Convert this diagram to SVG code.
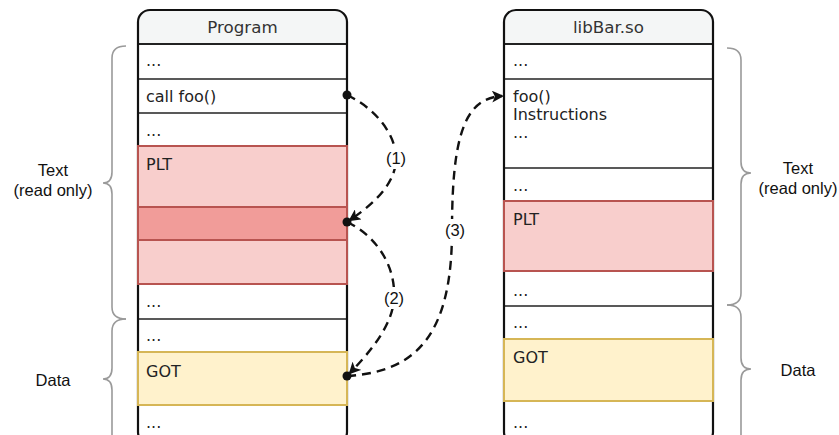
<svg xmlns="http://www.w3.org/2000/svg" width="839" height="435" viewBox="0 0 839 435">
<style>
.box{fill:none;stroke:#111;stroke-width:2.2}
.hdr{fill:#f4f6f6}
.sep{stroke:#222;stroke-width:1.4}
.plt{fill:#f8cecc;stroke:#b85450;stroke-width:2}
.pltd{fill:#f19c99;stroke:#b85450;stroke-width:2}
.got{fill:#fff2cc;stroke:#d6b656;stroke-width:2}
.t{font-family:"DejaVu Sans",sans-serif;font-size:16px;fill:#222}
.h{font-family:"DejaVu Sans",sans-serif;font-size:16.7px;fill:#333;text-anchor:middle}
.lbl{font-family:"Liberation Sans",Arial,sans-serif;font-size:16.5px;fill:#111;text-anchor:middle}
.brace{fill:none;stroke:#9a9a9a;stroke-width:1.6}
.conn{fill:none;stroke:#111;stroke-width:2.4;stroke-dasharray:9 6}
</style>
<defs>
<marker id="arr" viewBox="0 0 12 12" refX="10" refY="6" markerWidth="12" markerHeight="12" markerUnits="userSpaceOnUse" orient="auto">
<path d="M0,0 L12,6 L0,12 L3,6 Z" fill="#111"/>
</marker>
</defs>
<rect width="839" height="435" fill="#fff"/>

<g id="braces">
<path class="brace" d="M126,46 Q112,46 112,58 L112,172 Q112,183 103,183 Q112,183 112,194 L112,307 Q112,319 126,319"/>
<path class="brace" d="M126,319 Q112,319 112,331 L112,368 Q112,379 103,379 Q112,379 112,390 L112,440"/>
<path class="brace" d="M727,48 Q741,48 741,60 L741,162 Q741,173 751,173 Q741,173 741,184 L741,293 Q741,305 727,305"/>
<path class="brace" d="M727,305 Q741,305 741,317 L741,358 Q741,369 751,369 Q741,369 741,380 L741,440"/>
</g>

<g id="program">
<path class="hdr" d="M139.1,43.5 L139.1,22 Q139.1,11.1 150,11.1 L335,11.1 Q345.9,11.1 345.9,22 L345.9,43.5 Z"/>
<text class="h" x="242.5" y="33">Program</text>
<line class="sep" x1="138" y1="44" x2="347" y2="44" style="stroke-width:2"/>
<line class="sep" x1="138" y1="79" x2="347" y2="79"/>
<line class="sep" x1="138" y1="113" x2="347" y2="113"/>
<line class="sep" x1="138" y1="319" x2="347" y2="319"/>
<rect class="box" x="138" y="10" width="209" height="434" rx="12" ry="12"/>
<text class="t" x="146" y="66">...</text>
<text class="t" x="146" y="102">call foo()</text>
<text class="t" x="146" y="136">...</text>
<rect class="plt" x="138" y="146" width="209" height="138"/>
<rect class="pltd" x="138" y="207" width="209" height="33"/>
<text class="t" x="146" y="170">PLT</text>
<text class="t" x="146" y="307">...</text>
<text class="t" x="146" y="341">...</text>
<rect class="got" x="138" y="352" width="209" height="53"/>
<text class="t" x="146" y="377">GOT</text>
<text class="t" x="146" y="428">...</text>
</g>

<g id="libbar">
<path class="hdr" d="M505.1,43.5 L505.1,22 Q505.1,11.1 516,11.1 L701,11.1 Q711.9,11.1 711.9,22 L711.9,43.5 Z"/>
<text class="h" x="608.5" y="33">libBar.so</text>
<line class="sep" x1="504" y1="44" x2="713" y2="44" style="stroke-width:2"/>
<line class="sep" x1="504" y1="79" x2="713" y2="79"/>
<line class="sep" x1="504" y1="168" x2="713" y2="168"/>
<line class="sep" x1="504" y1="306" x2="713" y2="306"/>
<rect class="box" x="504" y="10" width="209" height="434" rx="12" ry="12"/>
<text class="t" x="513" y="66">...</text>
<text class="t" x="513" y="102">foo()</text>
<text class="t" x="513" y="120">Instructions</text>
<text class="t" x="513" y="138">...</text>
<text class="t" x="513" y="191">...</text>
<rect class="plt" x="504" y="201" width="209" height="70"/>
<text class="t" x="513" y="225">PLT</text>
<text class="t" x="513" y="296">...</text>
<text class="t" x="513" y="328">...</text>
<rect class="got" x="504" y="339" width="209" height="62"/>
<text class="t" x="513" y="363">GOT</text>
<text class="t" x="513" y="428">...</text>
</g>

<g id="side-labels">
<text class="lbl" x="53" y="176">Text</text>
<text class="lbl" x="53" y="196">(read only)</text>
<text class="lbl" x="53" y="386">Data</text>
<text class="lbl" x="798" y="174">Text</text>
<text class="lbl" x="798" y="194">(read only)</text>
<text class="lbl" x="798" y="376">Data</text>
</g>

<g id="connectors">
<path class="conn" marker-end="url(#arr)" d="M347,95 C375,108 397,135 396,160 C395,185 372,205 350,220"/>
<path class="conn" marker-end="url(#arr)" d="M347,222 C375,235 396,265 394,298 C393,325 370,352 350,373"/>
<path class="conn" marker-end="url(#arr)" d="M347,376 C420,372 452,330 452,230 C452,135 465,98 502,96"/>
<circle cx="347" cy="95" r="4.5" fill="#111"/>
<circle cx="347" cy="222" r="4.5" fill="#111"/>
<circle cx="347" cy="376" r="4.5" fill="#111"/>
<rect x="383" y="147" width="26" height="22" fill="#fff"/>
<text class="lbl" x="396" y="164">(1)</text>
<rect x="381" y="287" width="26" height="22" fill="#fff"/>
<text class="lbl" x="394" y="304">(2)</text>
<rect x="442" y="219" width="26" height="22" fill="#fff"/>
<text class="lbl" x="455" y="236">(3)</text>
</g>
</svg>
